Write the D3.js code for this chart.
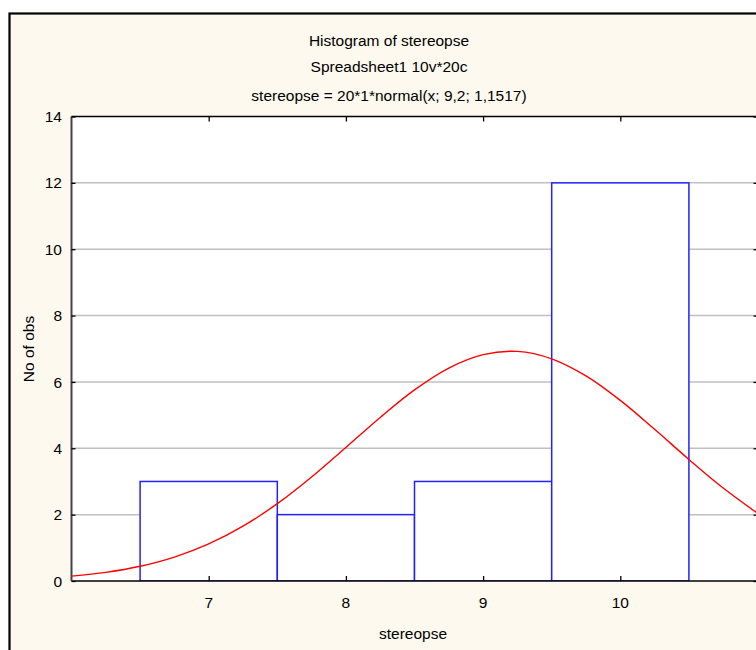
<!DOCTYPE html>
<html>
<head>
<meta charset="utf-8">
<script src="https://cdn.jsdelivr.net/npm/d3@7"></script>
<style>
  html, body { margin: 0; padding: 0; background: #ffffff; }
  svg { display: block; }
  text { font-family: "Liberation Sans", Arial, sans-serif; fill: #000; }
</style>
</head>
<body>
<svg id="chart" width="756" height="650"></svg>
<script>
// ---- data ----
const titleLines = ["Histogram of stereopse", "Spreadsheet1 10v*20c", "stereopse = 20*1*normal(x; 9,2; 1,1517)"];
const xLabel = "stereopse";
const yLabel = "No of obs";
const binLow  = [6.5, 7.5, 8.5, 9.5, 10.5];
const binHigh = [7.5, 8.5, 9.5, 10.5, 11.5];
const counts  = [3, 2, 3, 12, 0];
const xTicks = [7, 8, 9, 10];
const yTicks = [0, 2, 4, 6, 8, 10, 12, 14];
const curveX = [6, 6.25, 6.5, 6.75, 7, 7.25, 7.5, 7.75, 8, 8.25, 8.5, 8.75, 9, 9.25, 9.5, 9.75, 10, 10.25, 10.5, 10.75, 11];
const curveY = [0.146, 0.261, 0.444, 0.721, 1.117, 1.652, 2.331, 3.136, 4.026, 4.930, 5.760, 6.419, 6.824, 6.921, 6.697, 6.181, 5.443, 4.572, 3.664, 2.801, 2.042];

// ---- layout ----
const plot = { left: 71.5, right: 757.5, top: 116.5, bottom: 581 };
const svg = d3.select("#chart");

// outer frame with cream background
svg.append("rect").attr("x", 9.5).attr("y", 13.5).attr("width", 800).attr("height", 700)
  .attr("fill", "#fdf9ee").attr("stroke", "#000").attr("stroke-width", 2.2);

const x = d3.scaleLinear().domain([6, 11]).range([plot.left, plot.right]);
const y = d3.scaleLinear().domain([0, 14]).range([plot.bottom, plot.top]);

// plot area
svg.append("rect").attr("x", plot.left).attr("y", plot.top)
  .attr("width", plot.right - plot.left).attr("height", plot.bottom - plot.top)
  .attr("fill", "#fff");

// gridlines
svg.append("g").selectAll("line").data(yTicks.filter(d => d > 0 && d < 14)).join("line")
  .attr("x1", plot.left).attr("x2", plot.right)
  .attr("y1", d => y(d)).attr("y2", d => y(d))
  .attr("stroke", "#c0c0c0").attr("stroke-width", 1.5);

// clip
svg.append("clipPath").attr("id", "clip").append("rect")
  .attr("x", plot.left).attr("y", plot.top)
  .attr("width", plot.right - plot.left).attr("height", plot.bottom - plot.top);

// bars
const bars = counts.map((c, i) => ({ lo: binLow[i], hi: binHigh[i], c }));
svg.append("g").attr("clip-path", "url(#clip)").selectAll("rect").data(bars.filter(b => b.c > 0)).join("rect")
  .attr("x", d => x(d.lo)).attr("y", d => y(d.c))
  .attr("width", d => x(d.hi) - x(d.lo)).attr("height", d => y(0) - y(d.c))
  .attr("fill", "#fff").attr("stroke", "#2222ff").attr("stroke-width", 1.5);

// axes frame lines
svg.append("line").attr("x1", plot.left).attr("x2", plot.right).attr("y1", plot.top).attr("y2", plot.top)
  .attr("stroke", "#000").attr("stroke-width", 1.5);
svg.append("line").attr("x1", plot.left).attr("x2", plot.right).attr("y1", plot.bottom).attr("y2", plot.bottom)
  .attr("stroke", "#000").attr("stroke-width", 1.5);
svg.append("line").attr("x1", plot.left).attr("x2", plot.left).attr("y1", plot.top).attr("y2", plot.bottom)
  .attr("stroke", "#444").attr("stroke-width", 2);
svg.append("line").attr("x1", plot.right).attr("x2", plot.right).attr("y1", plot.top).attr("y2", plot.bottom)
  .attr("stroke", "#000").attr("stroke-width", 1.5);

// curve
const line = d3.line().x((d, i) => x(curveX[i])).y(d => y(d)).curve(d3.curveCatmullRom);
svg.append("path").attr("clip-path", "url(#clip)").datum(curveY)
  .attr("d", line).attr("fill", "none").attr("stroke", "#ff0000").attr("stroke-width", 1.4);

// axes with inward ticks
const fontSize = "15.5px";
const axL = d3.axisRight(y).tickValues(yTicks).tickSize(4).tickFormat("");
const gL = svg.append("g").attr("transform", `translate(${plot.left},0)`).call(axL);
const axR = d3.axisLeft(y).tickValues(yTicks).tickSize(4).tickFormat("");
const gR = svg.append("g").attr("transform", `translate(${plot.right},0)`).call(axR);
const axB = d3.axisTop(x).tickValues(xTicks).tickSize(5).tickFormat("");
const gB = svg.append("g").attr("transform", `translate(0,${plot.bottom})`).call(axB);
const axT = d3.axisBottom(x).tickValues(xTicks).tickSize(5).tickFormat("");
const gT = svg.append("g").attr("transform", `translate(0,${plot.top})`).call(axT);
[gL, gR, gB, gT].forEach(g => {
  g.select(".domain").remove();
  g.selectAll(".tick line").attr("stroke", "#000").attr("stroke-width", 1.3);
});

// tick labels
svg.append("g").selectAll("text").data(yTicks).join("text")
  .attr("x", 62).attr("y", d => y(d)).attr("dy", "0.36em")
  .attr("text-anchor", "end").style("font-size", fontSize).text(d => d);
svg.append("g").selectAll("text").data(xTicks).join("text")
  .attr("x", d => x(d)).attr("y", 608)
  .attr("text-anchor", "middle").style("font-size", fontSize).text(d => d);

// axis titles
svg.append("text").attr("x", 413).attr("y", 639).attr("text-anchor", "middle")
  .style("font-size", fontSize).text(xLabel);
svg.append("text").attr("transform", "translate(34,349) rotate(-90)").attr("text-anchor", "middle")
  .style("font-size", fontSize).text(yLabel);

// titles
const titleY = [46, 72, 101];
svg.append("g").selectAll("text").data(titleLines).join("text")
  .attr("x", 389).attr("y", (d, i) => titleY[i]).attr("text-anchor", "middle")
  .style("font-size", fontSize).text(d => d);
</script>
</body>
</html>
